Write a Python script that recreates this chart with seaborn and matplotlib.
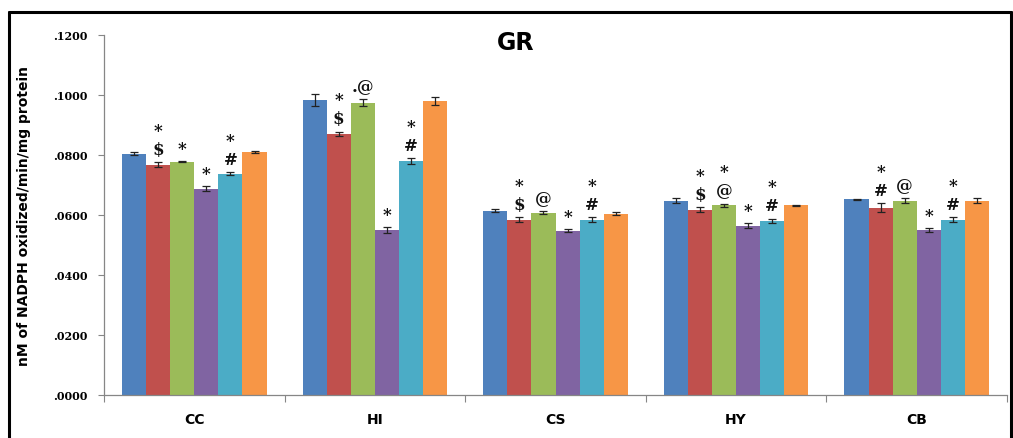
import matplotlib
matplotlib.use("Agg")
import matplotlib.pyplot as plt
from matplotlib.lines import Line2D
from matplotlib.ticker import FixedLocator, FixedFormatter
import seaborn as sns
import pandas as pd

# ---------------- data ----------------
categories = ["CC", "HI", "CS", "HY", "CB"]
series = ["S1", "S2", "S3", "S4", "S5", "S6"]

s1_vals = [0.0805, 0.0985, 0.0615, 0.0648, 0.0652]
s2_vals = [0.0768, 0.0870, 0.0585, 0.0618, 0.0625]
s3_vals = [0.0778, 0.0975, 0.0608, 0.0632, 0.0648]
s4_vals = [0.0688, 0.0550, 0.0548, 0.0565, 0.0550]
s5_vals = [0.0738, 0.0780, 0.0585, 0.0580, 0.0585]
s6_vals = [0.0810, 0.0980, 0.0605, 0.0632, 0.0648]

s1_err = [0.0005, 0.0020, 0.0006, 0.0008, 0.0003]
s2_err = [0.0008, 0.0008, 0.0008, 0.0008, 0.0015]
s3_err = [0.0002, 0.0012, 0.0006, 0.0006, 0.0008]
s4_err = [0.0008, 0.0010, 0.0004, 0.0008, 0.0006]
s5_err = [0.0006, 0.0010, 0.0008, 0.0008, 0.0008]
s6_err = [0.0002, 0.0012, 0.0006, 0.0003, 0.0008]

s1_ann = ["", "", "", "", ""]
s2_ann = ["*\n$", "*\n$", "*\n$", "*\n$", "*\n#"]
s3_ann = ["*", ".@", "@", "*\n@", "@"]
s4_ann = ["*", "*", "*", "*", "*"]
s5_ann = ["*\n#", "*\n#", "*\n#", "*\n#", "*\n#"]
s6_ann = ["", "", "", "", ""]

ytick_vals = [0.0, 0.02, 0.04, 0.06, 0.08, 0.10, 0.12]
ytick_labels = [".0000", ".0200", ".0400", ".0600", ".0800", ".1000", ".1200"]

title = "GR"
ylabel = "nM of NADPH oxidized/min/mg protein"

colors = ["#4F81BD", "#C0504D", "#9BBB59", "#8064A2", "#4BACC6", "#F79646"]

# ---------------- build frame ----------------
all_vals = [s1_vals, s2_vals, s3_vals, s4_vals, s5_vals, s6_vals]
all_err = [s1_err, s2_err, s3_err, s4_err, s5_err, s6_err]
all_ann = [s1_ann, s2_ann, s3_ann, s4_ann, s5_ann, s6_ann]

rows = []
for s, vals in zip(series, all_vals):
    for c, v in zip(categories, vals):
        rows.append({"cat": c, "series": s, "value": v})
df = pd.DataFrame(rows)

sns.set_theme(style="white")
plt.rcParams["font.family"] = ["DejaVu Sans"]
plt.rcParams["text.color"] = "black"
plt.rcParams["axes.labelcolor"] = "black"
plt.rcParams["xtick.labelcolor"] = "black"
plt.rcParams["ytick.labelcolor"] = "black"

W, H = 1013, 439
fig = plt.figure(figsize=(W / 100, H / 100), dpi=100)
ax = fig.add_axes([104 / W, 1 - 396 / H, (1007 - 104) / W, (396 - 36) / H])

sns.barplot(data=df, x="cat", y="value", hue="series", order=categories,
            hue_order=series, palette=colors, errorbar=None, width=0.8,
            saturation=1, ax=ax, legend=False, edgecolor="none", linewidth=0)

for cont, errs, anns in zip(ax.containers, all_err, all_ann):
    for bar, e, a in zip(cont, errs, anns):
        x = bar.get_x() + bar.get_width() / 2
        h = bar.get_height()
        ax.errorbar(x, h, yerr=e, fmt="none", ecolor="#222222",
                    elinewidth=0.9, capsize=3, capthick=0.9)
        if a:
            ax.annotate(a, xy=(x, h + e), xytext=(0, 3),
                        textcoords="offset points", ha="center", va="bottom",
                        fontsize=12, fontweight="bold", family="DejaVu Serif",
                        linespacing=1.15, color="#111111")

ax.set_xlim(-0.5, len(categories) - 0.5)
ax.set_ylim(0, 0.12)
ax.yaxis.set_major_locator(FixedLocator(ytick_vals))
ax.yaxis.set_major_formatter(FixedFormatter(ytick_labels))
for lab in ax.get_yticklabels():
    lab.set_fontfamily("DejaVu Serif")
    lab.set_fontweight("bold")
    lab.set_fontsize(8)
ax.tick_params(axis="y", direction="out", length=4, width=0.8,
               color="#868686", pad=8, left=True)
ax.set_xticks(range(len(categories)))
ax.set_xticklabels(categories, fontweight="bold", fontsize=10)
ax.tick_params(axis="x", which="major", length=0, pad=12)
ax.set_xticks([i - 0.5 for i in range(len(categories) + 1)], minor=True)
ax.tick_params(axis="x", which="minor", direction="out", length=5,
               width=0.8, color="#868686", bottom=True)

for side in ["top", "right"]:
    ax.spines[side].set_visible(False)
for side in ["left", "bottom"]:
    ax.spines[side].set_color("#868686")
    ax.spines[side].set_linewidth(0.9)

ax.set_xlabel("")
ax.set_ylabel(ylabel, fontsize=10, fontweight="bold", color="black")
ax.yaxis.set_label_coords((31 - 104) / (1007 - 104), 0.5)

fig.text(516 / W, 1 - 43 / H, title, ha="center", va="center",
         fontsize=17, fontweight="bold", color="black")

# outer frame
bl = 8.5 / W
tp = 1 - 13 / H
rt = 1010.5 / W
fig.add_artist(Line2D([bl, bl], [0, tp], transform=fig.transFigure,
                      color="black", linewidth=2.2))
fig.add_artist(Line2D([bl, rt], [tp, tp], transform=fig.transFigure,
                      color="black", linewidth=2.2))
fig.add_artist(Line2D([rt, rt], [0, tp], transform=fig.transFigure,
                      color="black", linewidth=2.2))

fig.savefig("out.png", dpi=100)
